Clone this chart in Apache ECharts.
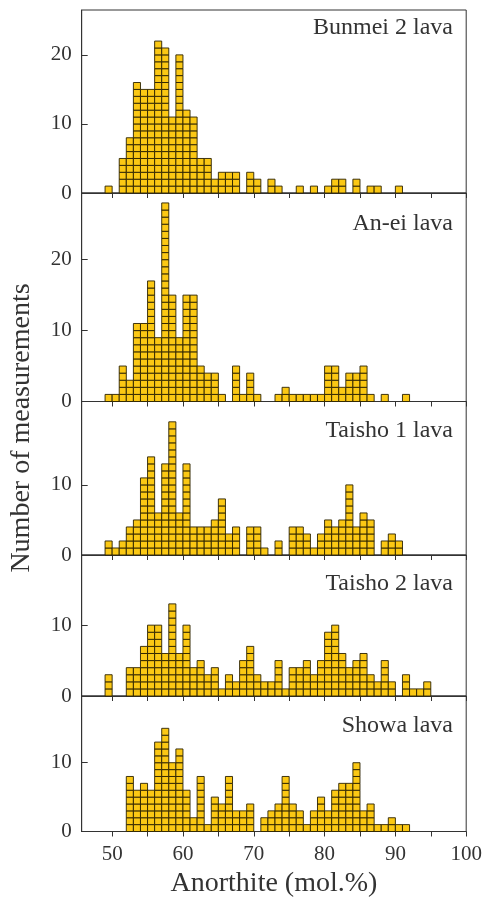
<!DOCTYPE html>
<html>
<head>
<meta charset="utf-8">
<script src="https://cdn.jsdelivr.net/npm/echarts@6/dist/echarts.min.js"></script>
<style>
  html, body { margin: 0; padding: 0; background: #fff; }
  #chart { width: 484px; height: 898px; }
</style>
</head>
<body>
<div id="chart"></div>
<script>
// bins are 1 mol.% wide, each value is the left edge of a bin
const binStart = 49;
const bunmei2 = [1, 0, 5, 8, 16, 15, 15, 22, 21, 11, 20, 12, 11, 5, 5, 2, 3, 3, 3, 0, 3, 2, 0, 2, 1, 0, 0, 1, 0, 1, 0, 1, 2, 2, 0, 2, 0, 1, 1, 0, 0, 1];
const anei = [1, 1, 5, 3, 11, 11, 17, 9, 28, 15, 9, 15, 15, 5, 4, 4, 1, 0, 5, 1, 4, 1, 0, 0, 1, 2, 1, 1, 1, 1, 1, 5, 5, 2, 4, 4, 5, 1, 0, 1, 0, 0, 1];
const taisho1 = [2, 1, 2, 4, 5, 11, 14, 6, 13, 19, 6, 13, 4, 4, 4, 5, 8, 3, 4, 0, 4, 4, 1, 0, 2, 0, 4, 4, 3, 1, 3, 5, 4, 5, 10, 4, 6, 5, 0, 2, 3, 2];
const taisho2 = [3, 0, 0, 4, 4, 7, 10, 10, 6, 13, 6, 10, 4, 5, 3, 4, 1, 3, 2, 5, 7, 3, 2, 2, 5, 1, 4, 4, 5, 3, 5, 9, 10, 6, 4, 5, 6, 3, 2, 5, 2, 0, 3, 1, 1, 2];
const showa = [0, 0, 0, 8, 6, 7, 6, 13, 15, 10, 12, 6, 2, 8, 1, 5, 4, 8, 3, 3, 4, 0, 2, 3, 4, 8, 4, 3, 1, 3, 5, 3, 6, 7, 7, 10, 3, 4, 1, 1, 2, 1, 1];

const panelNames = ['Bunmei 2 lava', 'An-ei lava', 'Taisho 1 lava', 'Taisho 2 lava', 'Showa lava'];
const panelCounts = [bunmei2, anei, taisho1, taisho2, showa];
const yMax = [26.5, 29.4, 21.9, 19.9, 19.7];
const yTicks = [[0, 10, 20], [0, 10, 20], [0, 10], [0, 10], [0, 10]];
const xTicks = [50, 55, 60, 65, 70, 75, 80, 85, 90, 95, 100];
const xLabels = [50, 60, 70, 80, 90, 100];

// panel layout (pixels)
const plotLeft = 81.7;
const plotWidth = 384.5;
const panelTop = [10, 193, 401.5, 555, 696];
const panelHeight = [183, 208.5, 153.5, 141, 135.5];
const labelY = [27.5, 224, 431, 584, 726];

const SERIF = '"Liberation Serif", "DejaVu Serif", serif';
const INK = '#333';
const FILL = '#FBC814';
const EDGE = '#2a2100';

// one square per measurement, stacked in its bin
function renderCells(params, api) {
  const bin = api.value(0);
  const n = api.value(1);
  const children = [];
  for (let k = 0; k < n; k++) {
    const p0 = api.coord([bin, k + 1]);
    const p1 = api.coord([bin + 1, k]);
    children.push({
      type: 'rect',
      shape: { x: p0[0], y: p0[1], width: p1[0] - p0[0], height: p1[1] - p0[1] },
      style: { fill: FILL, stroke: EDGE, lineWidth: 0.9 }
    });
  }
  return { type: 'group', children: children };
}

const chart = echarts.init(document.getElementById('chart'));

const grids = [], xAxes = [], yAxes = [], series = [], texts = [];
panelCounts.forEach((counts, i) => {
  const last = i === panelCounts.length - 1;
  grids.push({
    left: plotLeft, width: plotWidth, top: panelTop[i], height: panelHeight[i],
    show: true, borderColor: INK, borderWidth: 1, backgroundColor: 'transparent',
    containLabel: false, outerBoundsMode: 'none'
  });
  xAxes.push({
    type: 'value', gridIndex: i, min: 45.7, max: 100,
    axisLine: { show: true, onZero: false, lineStyle: { color: INK, width: 1 } },
    axisTick: { show: true, inside: false, length: 5, customValues: xTicks, lineStyle: { color: INK } },
    axisLabel: {
      show: last, customValues: xLabels, margin: 12,
      fontFamily: SERIF, fontSize: 21, color: INK
    },
    splitLine: { show: false },
    name: last ? 'Anorthite (mol.%)' : '',
    nameLocation: 'middle', nameGap: 38,
    nameTextStyle: { fontFamily: SERIF, fontSize: 28, color: INK }
  });
  yAxes.push({
    type: 'value', gridIndex: i, min: 0, max: yMax[i],
    axisLine: { show: true, lineStyle: { color: INK, width: 1 } },
    axisTick: { show: true, inside: true, length: 6, customValues: yTicks[i], lineStyle: { color: INK } },
    axisLabel: { customValues: yTicks[i], margin: 10, fontFamily: SERIF, fontSize: 21, color: INK },
    splitLine: { show: false }
  });
  series.push({
    type: 'custom', xAxisIndex: i, yAxisIndex: i,
    renderItem: renderCells,
    encode: { x: 0, y: 1 },
    data: counts.map((c, j) => [binStart + j, c]).filter(d => d[1] > 0),
    silent: true
  });
  texts.push({
    type: 'text', x: 453, y: labelY[i],
    style: { text: panelNames[i], font: '24px ' + SERIF, fill: INK, textAlign: 'right', textVerticalAlign: 'middle' }
  });
});

texts.push({
  type: 'text', x: 22, y: 428, rotation: Math.PI / 2,
  style: { text: 'Number of measurements', font: '28px ' + SERIF, fill: INK, textAlign: 'center', textVerticalAlign: 'middle' }
});

chart.setOption({
  animation: false,
  grid: grids,
  xAxis: xAxes,
  yAxis: yAxes,
  series: series,
  graphic: texts
});
</script>
</body>
</html>
